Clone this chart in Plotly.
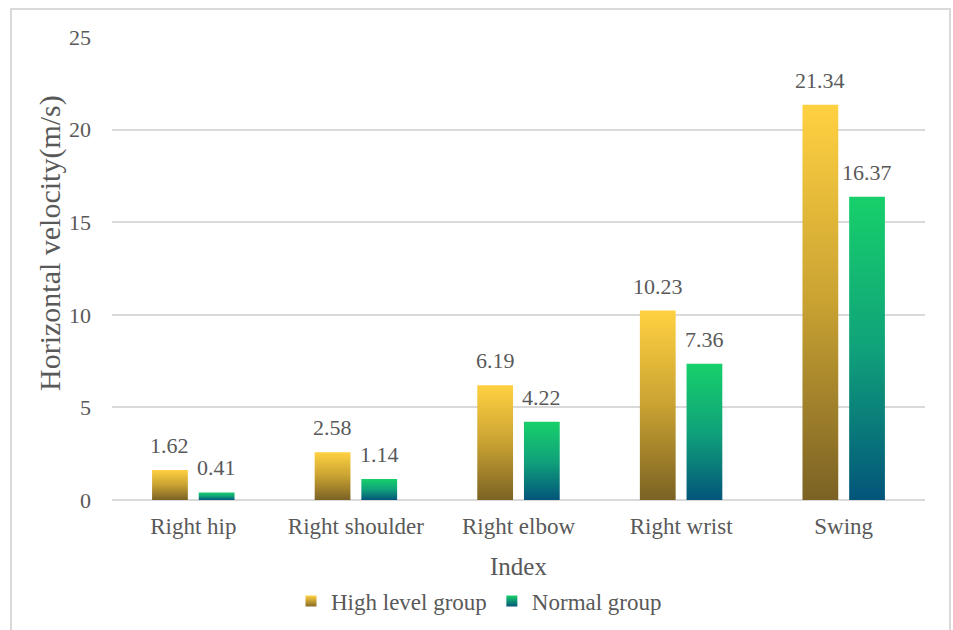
import plotly.graph_objects as go

categories = ["Right hip", "Right shoulder", "Right elbow", "Right wrist", "Swing"]
high_level = [1.62, 2.58, 6.19, 10.23, 21.34]
normal = [0.41, 1.14, 4.22, 7.36, 16.37]
series_names = ["High level group", "Normal group"]
y_ticks = [0, 5, 10, 15, 20, 25]

FONT = "Liberation Serif"
TXT = "#595959"
GRID = "#D9D9D9"

yellow_scale = [[0, "#7B6224"], [0.5, "#C9A232"], [1, "#FFD141"]]
green_scale = [[0, "#03557A"], [0.5, "#10A27A"], [1, "#17D06A"]]
yellow_top, yellow_bot = "#FFD141", "#8A6D26"
green_top, green_bot = "#17D06A", "#03557A"

offset = 0.1435
half_w = 0.11

fig = go.Figure()

L, R, T, B = 112, 28, 37, 130
W, H = 953, 630
pw, ph = W - L - R, H - T - B

annotations = []
for values, scale, sign, name in [(high_level, yellow_scale, -1, series_names[0]),
                                  (normal, green_scale, 1, series_names[1])]:
    for i, v in enumerate(values):
        c = i + sign * offset
        xs = [c - half_w, c + half_w, c + half_w, c - half_w, c - half_w]
        ys = [0, 0, v, v, 0]
        fig.add_trace(go.Scatter(
            x=xs, y=ys, mode="lines", fill="toself",
            line=dict(width=0),
            fillgradient=dict(type="vertical", colorscale=scale, start=0, stop=v),
            showlegend=False, hoverinfo="skip", legendgroup=name,
        ))
        annotations.append(dict(
            x=c, y=v, xref="x", yref="y", text=f"{v:.2f}", showarrow=False,
            yanchor="bottom", yshift=10,
            font=dict(family=FONT, size=22, color=TXT),
        ))

# y-axis title (placed as in the reference, slightly above the plot centre)
annotations.append(dict(
    text="Horizontal velocity(m/s)", xref="paper", yref="paper",
    x=(50 - L) / pw, y=(T + ph - 243) / ph, xanchor="center", yanchor="middle",
    textangle=-90, showarrow=False,
    font=dict(family=FONT, size=30, color=TXT),
))

# legend swatches
for name, top, bot in [(series_names[0], yellow_top, yellow_bot),
                       (series_names[1], green_top, green_bot)]:
    fig.add_trace(go.Scatter(
        x=[None], y=[None], mode="markers", name=name, legendgroup=name,
        marker=dict(symbol="square", size=11, color=top,
                    gradient=dict(type="vertical", color=bot),
                    line=dict(width=0)),
    ))

fig.add_shape(
    type="rect", xref="paper", yref="paper",
    x0=(11 - L) / pw, x1=(950 - L) / pw,
    y0=(T + ph - 640) / ph, y1=(T + ph - 9) / ph,
    line=dict(color=GRID, width=2), fillcolor="rgba(0,0,0,0)", layer="below",
)

fig.update_layout(
    width=W, height=H,
    margin=dict(l=L, r=R, t=T, b=B),
    paper_bgcolor="white", plot_bgcolor="white",
    font=dict(family=FONT, size=22, color=TXT),
    annotations=annotations,
    showlegend=True,
    legend=dict(orientation="h", xref="paper", x=(479 - L) / pw, xanchor="center",
                yref="container", y=(H - 601) / H,
                yanchor="middle", font=dict(family=FONT, size=23, color=TXT),
                itemsizing="trace", bgcolor="rgba(0,0,0,0)"),
    xaxis=dict(
        range=[-0.5, 4.5], tickmode="array", tickvals=list(range(len(categories))),
        ticktext=categories, showgrid=False, zeroline=False, showline=False,
        ticks="", ticklabelstandoff=10, automargin=False,
        tickfont=dict(family=FONT, size=23, color=TXT),
        title=dict(text="Index", font=dict(family=FONT, size=25, color=TXT), standoff=19),
        fixedrange=True,
    ),
    yaxis=dict(
        range=[0, 25], tickmode="array", tickvals=y_ticks,
        showgrid=True, gridcolor=GRID, gridwidth=2,
        zeroline=True, zerolinecolor=GRID, zerolinewidth=2,
        showline=False, ticks="", ticklabelstandoff=20, automargin=False,
        tickfont=dict(family=FONT, size=22, color=TXT),
        fixedrange=True,
    ),
)

fig.write_html("out.html")
